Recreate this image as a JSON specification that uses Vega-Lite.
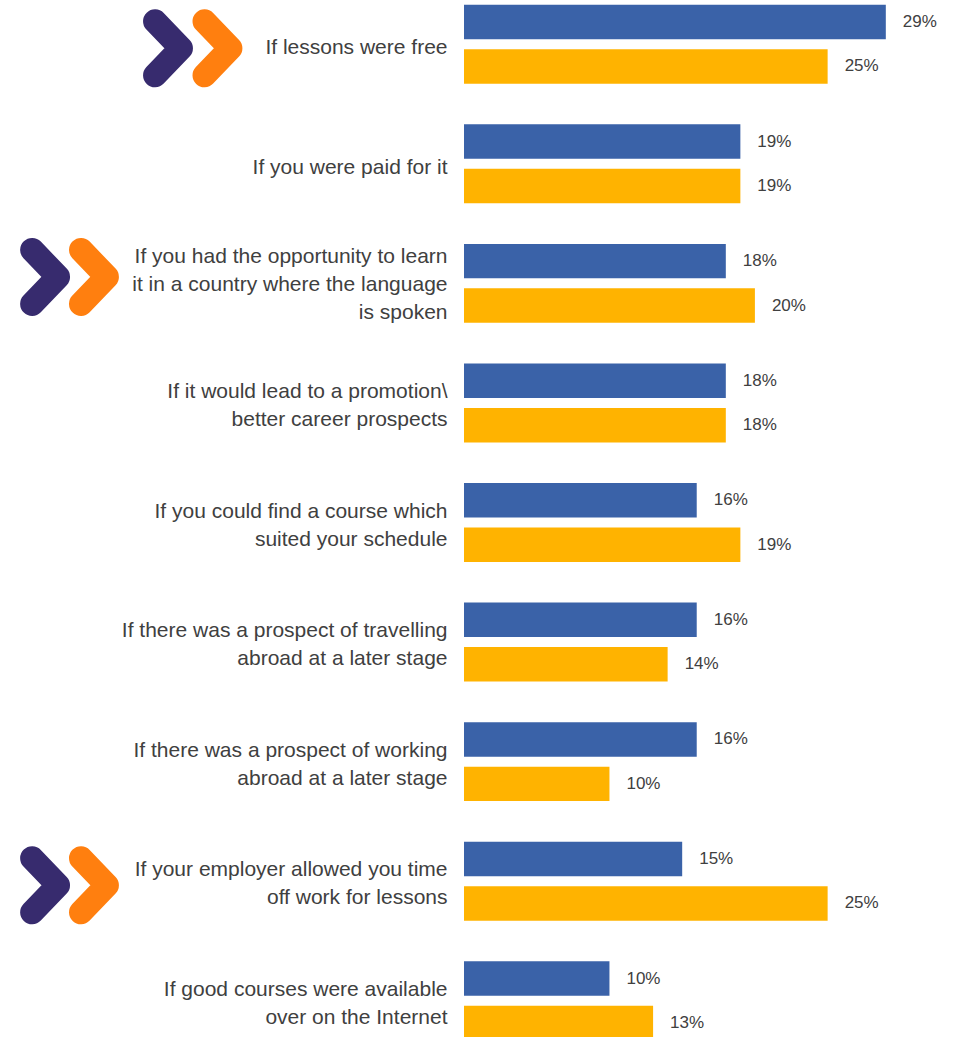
{
  "$schema": "https://vega.github.io/schema/vega-lite/v6.json",
  "autosize": {"type": "none"},
  "padding": {"left": 464, "top": 0, "right": 0, "bottom": 0},
  "width": 480,
  "height": 1045,
  "background": "white",
  "config": {"view": {"stroke": null}},
  "data": {
    "values": [
      {"category": "If lessons were free", "series": "blue", "value": 29},
      {"category": "If lessons were free", "series": "yellow", "value": 25},
      {"category": "If you were paid for it", "series": "blue", "value": 19},
      {"category": "If you were paid for it", "series": "yellow", "value": 19},
      {"category": "If you had the opportunity to learn|it in a country where the language|is spoken", "series": "blue", "value": 18},
      {"category": "If you had the opportunity to learn|it in a country where the language|is spoken", "series": "yellow", "value": 20},
      {"category": "If it would lead to a promotion\\|better career prospects", "series": "blue", "value": 18},
      {"category": "If it would lead to a promotion\\|better career prospects", "series": "yellow", "value": 18},
      {"category": "If you could find a course which|suited your schedule", "series": "blue", "value": 16},
      {"category": "If you could find a course which|suited your schedule", "series": "yellow", "value": 19},
      {"category": "If there was a prospect of travelling|abroad at a later stage", "series": "blue", "value": 16},
      {"category": "If there was a prospect of travelling|abroad at a later stage", "series": "yellow", "value": 14},
      {"category": "If there was a prospect of working|abroad at a later stage", "series": "blue", "value": 16},
      {"category": "If there was a prospect of working|abroad at a later stage", "series": "yellow", "value": 10},
      {"category": "If your employer allowed you time|off work for lessons", "series": "blue", "value": 15},
      {"category": "If your employer allowed you time|off work for lessons", "series": "yellow", "value": 25},
      {"category": "If good courses were available|over on the Internet", "series": "blue", "value": 10},
      {"category": "If good courses were available|over on the Internet", "series": "yellow", "value": 13}
    ]
  },
  "encoding": {
    "y": {
      "field": "category",
      "type": "nominal",
      "sort": null,
      "scale": {"paddingInner": 0.34, "paddingOuter": 0.04},
      "axis": {
        "title": null,
        "domain": false,
        "ticks": false,
        "grid": false,
        "labelExpr": "split(datum.label, '|')",
        "labelFont": "Liberation Sans, Arial, sans-serif",
        "labelFontSize": 21,
        "labelLineHeight": 28,
        "labelColor": "#404040",
        "labelPadding": 17,
        "labelLimit": 0,
        "labelAlign": "right",
        "labelBaseline": "middle",
        "labelOffset": {
          "condition": [
            {"test": "indexof(datum.value, 'opportunity') >= 0", "value": -26},
            {"test": "indexof(datum.value, '|') >= 0", "value": -11}
          ],
          "value": 4
        }
      }
    }
  },
  "layer": [
    {
      "mark": {"type": "bar"},
      "encoding": {
        "x": {"field": "value", "type": "quantitative", "scale": {"domain": [0, 33], "nice": false}, "axis": null},
        "yOffset": {"field": "series", "type": "nominal", "scale": {"paddingInner": 0.225, "paddingOuter": 0}},
        "color": {"field": "series", "type": "nominal", "scale": {"domain": ["blue", "yellow"], "range": ["#3A62A8", "#FFB300"]}, "legend": null}
      }
    },
    {
      "transform": [{"calculate": "datum.value + '%'", "as": "lbl"}],
      "mark": {"type": "text", "align": "left", "baseline": "middle", "dx": 17, "font": "Liberation Sans, Arial, sans-serif", "fontSize": 17, "color": "#404040"},
      "encoding": {
        "x": {"field": "value", "type": "quantitative", "scale": {"domain": [0, 33], "nice": false}, "axis": null},
        "yOffset": {"field": "series", "type": "nominal", "scale": {"paddingInner": 0.225, "paddingOuter": 0}},
        "text": {"field": "lbl", "type": "nominal"}
      }
    },
    {
      "transform": [{"filter": "datum.series == 'blue' && datum.category == 'If lessons were free'"}],
      "mark": {"type": "point", "shape": "M-0.48,-0.85 L0.48,0.15 L-0.48,1.15", "size": 2916, "filled": false, "stroke": "#372B6E", "strokeWidth": 24, "strokeCap": "round", "strokeJoin": "round", "opacity": 1},
      "encoding": {"x": {"datum": -20.35, "type": "quantitative", "scale": {"domain": [0, 33], "nice": false}}}
    },
    {
      "transform": [{"filter": "datum.series == 'blue' && datum.category == 'If lessons were free'"}],
      "mark": {"type": "point", "shape": "M-0.48,-0.85 L0.48,0.15 L-0.48,1.15", "size": 2916, "filled": false, "stroke": "#FF7F0F", "strokeWidth": 24, "strokeCap": "round", "strokeJoin": "round", "opacity": 1},
      "encoding": {"x": {"datum": -16.95, "type": "quantitative", "scale": {"domain": [0, 33], "nice": false}}}
    },
    {
      "transform": [{"filter": "datum.series == 'blue' && indexof(datum.category, 'employer') >= 0"}],
      "mark": {"type": "point", "shape": "M-0.48,-0.85 L0.48,0.15 L-0.48,1.15", "size": 2916, "filled": false, "stroke": "#372B6E", "strokeWidth": 24, "strokeCap": "round", "strokeJoin": "round", "opacity": 1},
      "encoding": {"x": {"datum": -28.8, "type": "quantitative", "scale": {"domain": [0, 33], "nice": false}}}
    },
    {
      "transform": [{"filter": "datum.series == 'blue' && indexof(datum.category, 'employer') >= 0"}],
      "mark": {"type": "point", "shape": "M-0.48,-0.85 L0.48,0.15 L-0.48,1.15", "size": 2916, "filled": false, "stroke": "#FF7F0F", "strokeWidth": 24, "strokeCap": "round", "strokeJoin": "round", "opacity": 1},
      "encoding": {"x": {"datum": -25.44, "type": "quantitative", "scale": {"domain": [0, 33], "nice": false}}}
    },
    {
      "transform": [{"filter": "datum.series == 'blue' && indexof(datum.category, 'opportunity') >= 0"}],
      "mark": {"type": "point", "shape": "M-0.48,-1.24 L0.48,-0.24 L-0.48,0.76", "size": 2916, "filled": false, "stroke": "#372B6E", "strokeWidth": 24, "strokeCap": "round", "strokeJoin": "round", "opacity": 1},
      "encoding": {"x": {"datum": -28.8, "type": "quantitative", "scale": {"domain": [0, 33], "nice": false}}}
    },
    {
      "transform": [{"filter": "datum.series == 'blue' && indexof(datum.category, 'opportunity') >= 0"}],
      "mark": {"type": "point", "shape": "M-0.48,-1.24 L0.48,-0.24 L-0.48,0.76", "size": 2916, "filled": false, "stroke": "#FF7F0F", "strokeWidth": 24, "strokeCap": "round", "strokeJoin": "round", "opacity": 1},
      "encoding": {"x": {"datum": -25.44, "type": "quantitative", "scale": {"domain": [0, 33], "nice": false}}}
    }
  ]
}
